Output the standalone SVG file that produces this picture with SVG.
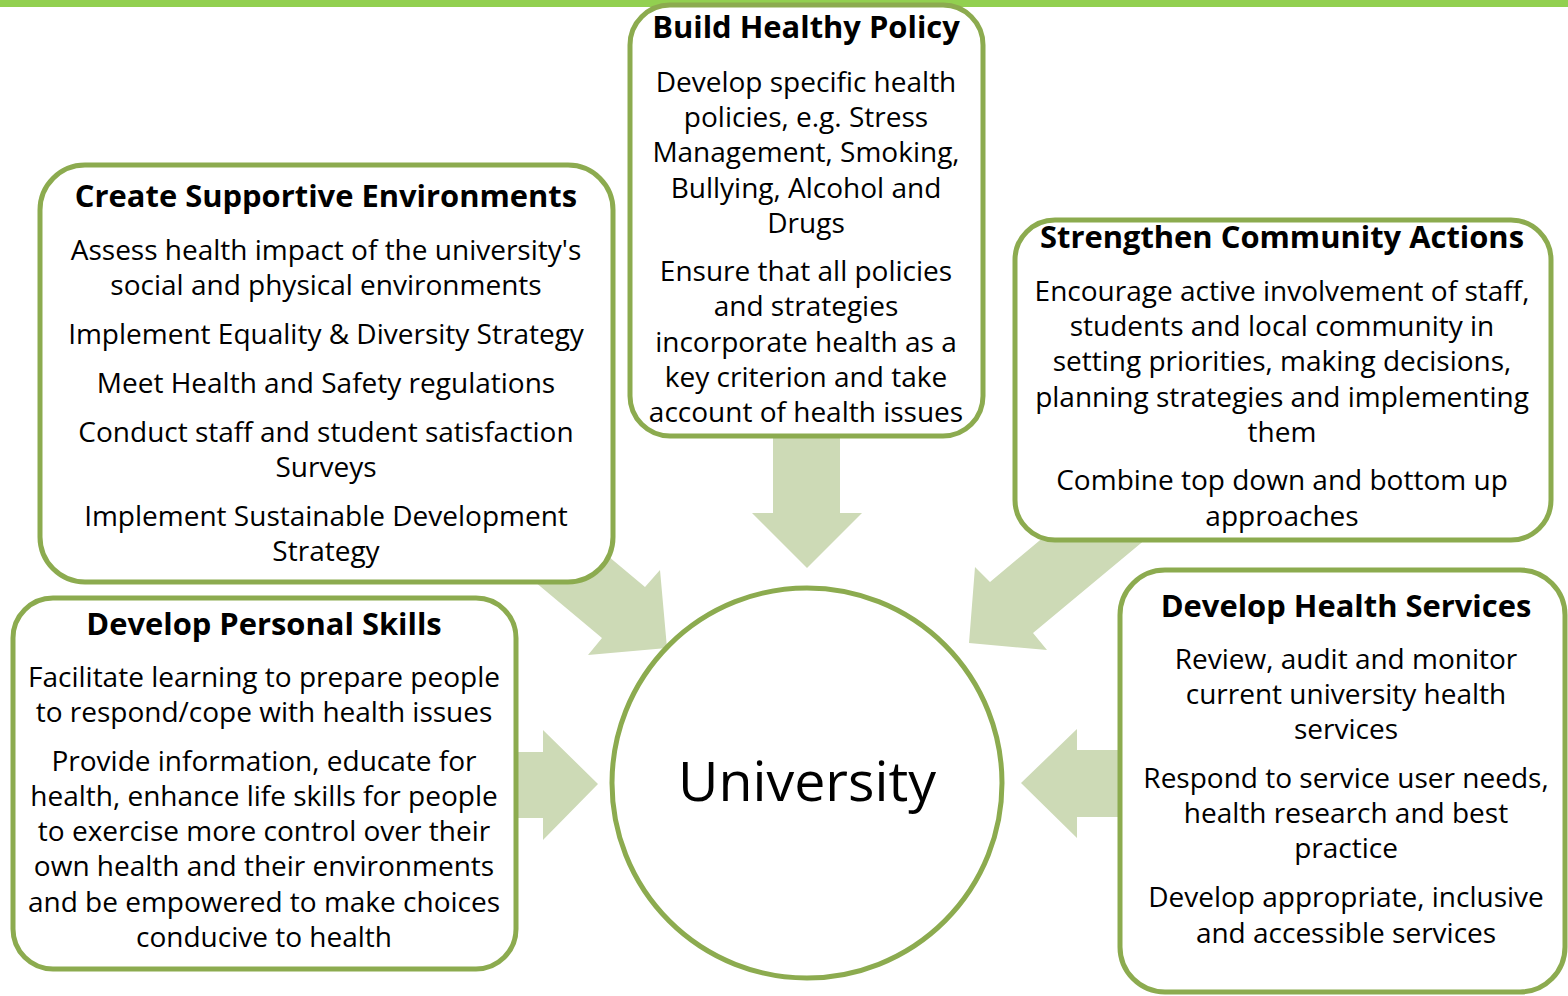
<svg xmlns="http://www.w3.org/2000/svg" width="1568" height="996" viewBox="0 0 1568 996">
  <style>
    .box { fill: #ffffff; stroke: #8cab4f; stroke-width: 5; }
    .arrow { fill: #cddab6; }
    .title { font-family: "Open Sans", "Liberation Sans", sans-serif; font-weight: bold; font-size: 30.9px; fill: #000; text-anchor: middle; }
    .body { font-family: "Open Sans", "Liberation Sans", sans-serif; font-size: 28px; fill: #000; text-anchor: middle; }
    .hub { font-family: "Open Sans", "Liberation Sans", sans-serif; font-size: 55.5px; fill: #000; text-anchor: middle; }
  </style>

  <rect x="0" y="0" width="1568" height="996" fill="#ffffff"/>
  <!-- header band -->
  <rect x="0" y="0" width="1568" height="7" fill="#92d050"/>

  <!-- block arrows pointing at the hub -->
  <g id="connectors">
    <polygon class="arrow" points="773,430 840,430 840,513 862,513 807,568 752,513 773,513"/>
    <polygon class="arrow" points="553,510 645,587 660,570 667,648 588,655 602,638 510,561"/>
    <polygon class="arrow" points="1082,505 1164,524 1033,633 1047,650 969,643 975,567 990,582"/>
    <polygon class="arrow" points="505,752 543,752 543,730 598,784 543,840 543,818 505,818"/>
    <polygon class="arrow" points="1125,750 1077,750 1077,729 1021,783 1077,838 1077,817 1125,817"/>
  </g>

  <g id="policy">
    <rect class="box" x="630" y="5" width="353" height="431" rx="40"/>
    <text class="title" x="806" y="38">Build Healthy Policy</text>
    <text class="body" x="806" y="92">Develop specific health</text>
    <text class="body" x="806" y="127">policies, e.g. Stress</text>
    <text class="body" x="806" y="162">Management, Smoking,</text>
    <text class="body" x="806" y="198">Bullying, Alcohol and</text>
    <text class="body" x="806" y="233">Drugs</text>
    <text class="body" x="806" y="281">Ensure that all policies</text>
    <text class="body" x="806" y="316">and strategies</text>
    <text class="body" x="806" y="352">incorporate health as a</text>
    <text class="body" x="806" y="387">key criterion and take</text>
    <text class="body" x="806" y="422">account of health issues</text>
  </g>

  <g id="environments">
    <rect class="box" x="40" y="165" width="573" height="417" rx="45"/>
    <text class="title" x="326" y="207">Create Supportive Environments</text>
    <text class="body" x="326" y="260">Assess health impact of the university's</text>
    <text class="body" x="326" y="295">social and physical environments</text>
    <text class="body" x="326" y="344">Implement Equality &amp; Diversity Strategy</text>
    <text class="body" x="326" y="393">Meet Health and Safety regulations</text>
    <text class="body" x="326" y="442">Conduct staff and student satisfaction</text>
    <text class="body" x="326" y="477">Surveys</text>
    <text class="body" x="326" y="526">Implement Sustainable Development</text>
    <text class="body" x="326" y="561">Strategy</text>
  </g>

  <g id="community">
    <rect class="box" x="1015" y="220" width="536" height="320" rx="40"/>
    <text class="title" x="1282" y="248">Strengthen Community Actions</text>
    <text class="body" x="1282" y="301">Encourage active involvement of staff,</text>
    <text class="body" x="1282" y="336">students and local community in</text>
    <text class="body" x="1282" y="371">setting priorities, making decisions,</text>
    <text class="body" x="1282" y="407">planning strategies and implementing</text>
    <text class="body" x="1282" y="442">them</text>
    <text class="body" x="1282" y="490">Combine top down and bottom up</text>
    <text class="body" x="1282" y="526">approaches</text>
  </g>

  <g id="skills">
    <rect class="box" x="13" y="598" width="503" height="371" rx="40"/>
    <text class="title" x="264" y="635">Develop Personal Skills</text>
    <text class="body" x="264" y="687">Facilitate learning to prepare people</text>
    <text class="body" x="264" y="722">to respond/cope with health issues</text>
    <text class="body" x="264" y="771">Provide information, educate for</text>
    <text class="body" x="264" y="806">health, enhance life skills for people</text>
    <text class="body" x="264" y="841">to exercise more control over their</text>
    <text class="body" x="264" y="876">own health and their environments</text>
    <text class="body" x="264" y="912">and be empowered to make choices</text>
    <text class="body" x="264" y="947">conducive to health</text>
  </g>

  <g id="services">
    <rect class="box" x="1120" y="570" width="445" height="422" rx="45"/>
    <text class="title" x="1346" y="617">Develop Health Services</text>
    <text class="body" x="1346" y="669">Review, audit and monitor</text>
    <text class="body" x="1346" y="704">current university health</text>
    <text class="body" x="1346" y="739">services</text>
    <text class="body" x="1346" y="788">Respond to service user needs,</text>
    <text class="body" x="1346" y="823">health research and best</text>
    <text class="body" x="1346" y="858">practice</text>
    <text class="body" x="1346" y="907">Develop appropriate, inclusive</text>
    <text class="body" x="1346" y="943">and accessible services</text>
  </g>

  <g id="university">
    <circle cx="807" cy="783" r="195" fill="#ffffff" stroke="#8cab4f" stroke-width="5"/>
    <text class="hub" x="807" y="801">University</text>
  </g>
</svg>
